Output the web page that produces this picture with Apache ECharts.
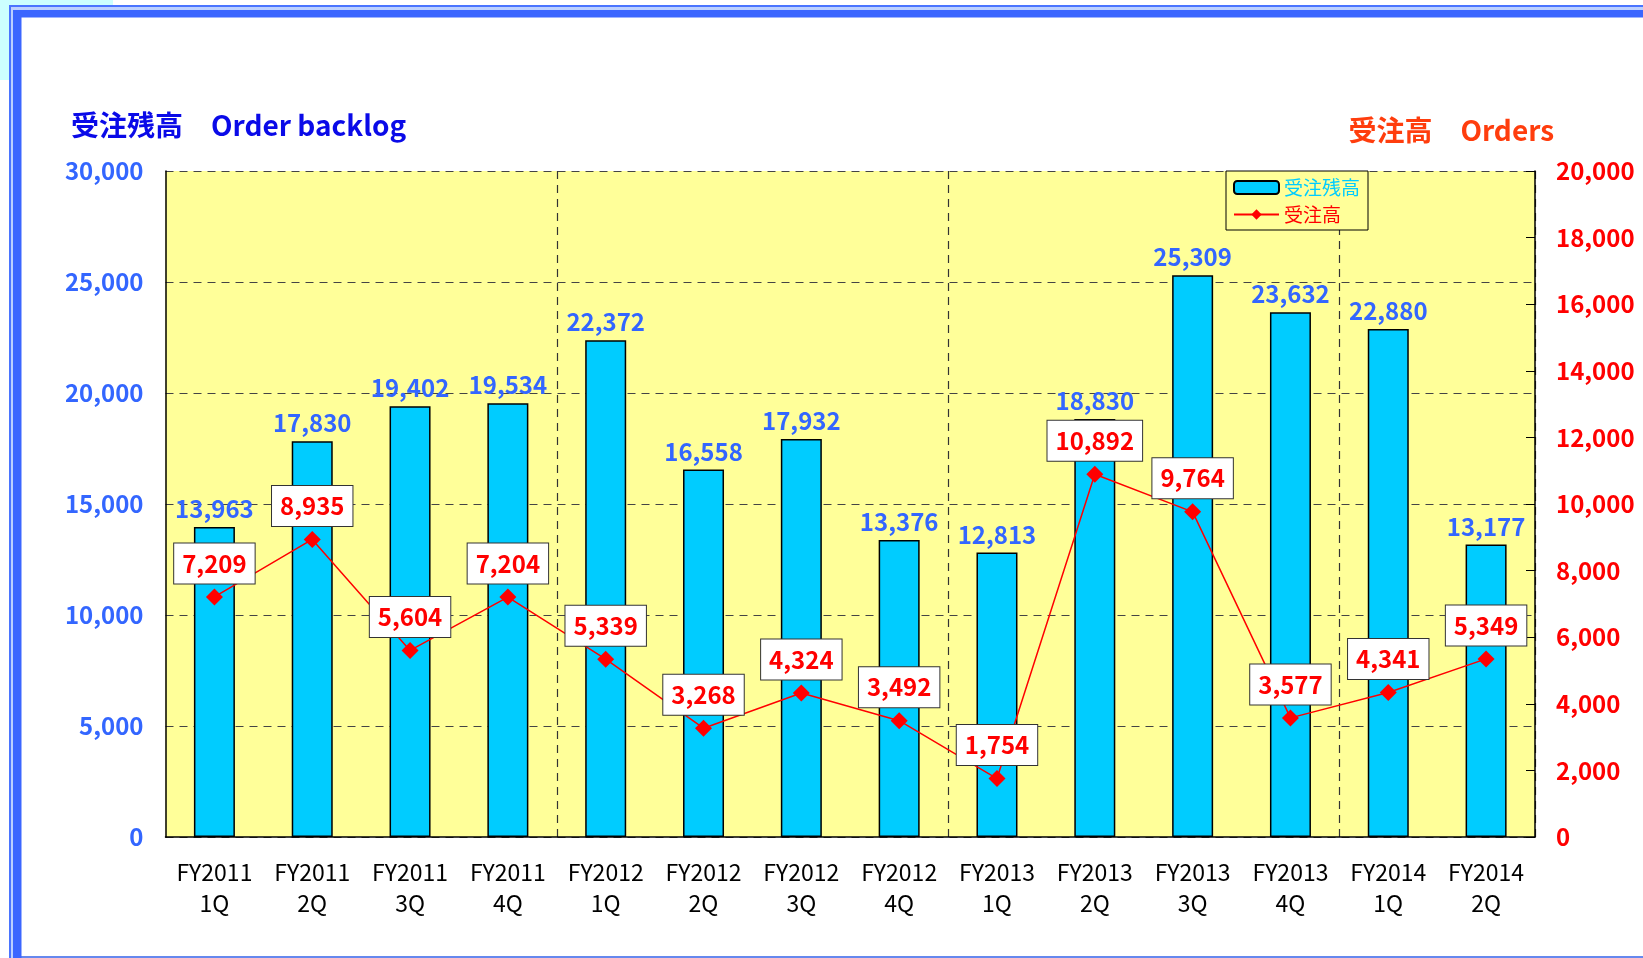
<!DOCTYPE html>
<html>
<head>
<meta charset="utf-8">
<script src="https://cdn.jsdelivr.net/npm/echarts@6/dist/echarts.min.js"></script>
<style>
  html, body { margin: 0; padding: 0; background: #fff; }
  #chart { width: 1643px; height: 958px; }
</style>
</head>
<body>
<div id="chart"></div>
<script>
const categories = [
  'FY2011\n1Q', 'FY2011\n2Q', 'FY2011\n3Q', 'FY2011\n4Q',
  'FY2012\n1Q', 'FY2012\n2Q', 'FY2012\n3Q', 'FY2012\n4Q',
  'FY2013\n1Q', 'FY2013\n2Q', 'FY2013\n3Q', 'FY2013\n4Q',
  'FY2014\n1Q', 'FY2014\n2Q'
]
// 受注残高 (order backlog)
const backlog = [13963, 17830, 19402, 19534, 22372, 16558, 17932, 13376, 12813, 18830, 25309, 23632, 22880, 13177]
// 受注高 (orders)
const orders = [7209, 8935, 5604, 7204, 5339, 3268, 4324, 3492, 1754, 10892, 9764, 3577, 4341, 5349]

const fmt = (v) => Number(v).toLocaleString('en-US')
const FONT = '"Noto Sans CJK JP", "Noto Sans", sans-serif'

const myChart = echarts.init(document.getElementById('chart'))

const option = {
  animation: false,
  textStyle: { fontFamily: FONT },
  // page frame
  graphic: {
    elements: [
      { type: 'rect', z: -10, shape: { x: 0, y: 0, width: 113, height: 80 }, style: { fill: '#ccffff' } },
      { type: 'rect', z: -9, shape: { x: 9, y: 5, width: 1700, height: 1000 }, style: { fill: '#4a74ff' } },
      { type: 'rect', z: -8, shape: { x: 11, y: 7, width: 1700, height: 1000 }, style: { fill: '#bcd0ff' } },
      { type: 'rect', z: -7, shape: { x: 13, y: 10, width: 1700, height: 1000 }, style: { fill: '#3b66ff' } },
      { type: 'rect', z: -6, shape: { x: 21.5, y: 17.5, width: 1700, height: 938.5 }, style: { fill: '#ffffff' } },
      { type: 'rect', z: -6, shape: { x: 21.5, y: 956, width: 1700, height: 2 }, style: { fill: '#6688ee' } }
    ]
  },
  title: [
    {
      text: '受注残高　Order backlog',
      left: 66,
      top: 106,
      textStyle: { color: '#0a0ae8', fontSize: 28, fontWeight: 'bold', fontFamily: FONT }
    },
    {
      text: '受注高　Orders',
      right: 84,
      top: 111,
      textStyle: { color: '#ff3d0d', fontSize: 28, fontWeight: 'bold', fontFamily: FONT }
    }
  ],
  legend: {
    orient: 'vertical',
    left: 1226,
    top: 171,
    padding: [7, 8, 6, 7],
    itemGap: 8,
    itemWidth: 45,
    itemHeight: 13,
    backgroundColor: '#ffff99',
    borderColor: '#000',
    borderWidth: 1,
    textStyle: { fontSize: 19, fontFamily: FONT },
    data: [
      { name: '受注残高', textStyle: { color: '#00ccff' } },
      { name: '受注高', textStyle: { color: '#ff0000' } }
    ]
  },
  grid: {
    left: 165.5,
    right: 108,
    top: 171,
    bottom: 121,
    containLabel: false,
    show: true,
    backgroundColor: '#ffff99',
    borderWidth: 0
  },
  xAxis: {
    type: 'category',
    data: categories,
    axisLine: { lineStyle: { color: '#000', width: 1.5 } },
    axisTick: { show: false },
    axisLabel: { color: '#000', fontSize: 23, lineHeight: 31, margin: 20, interval: 0 },
    splitLine: {
      show: true,
      interval: (idx) => idx > 0 && idx % 4 === 0,
      lineStyle: { color: '#333', type: [8, 6], width: 1.2 }
    }
  },
  yAxis: [
    {
      type: 'value',
      min: 0,
      max: 30000,
      interval: 5000,
      axisLine: { show: true, lineStyle: { color: '#000', width: 1.5 } },
      axisTick: { show: false },
      axisLabel: { color: '#3366ff', fontSize: 24, fontWeight: 'bold', margin: 22, formatter: fmt },
      splitLine: { show: true, lineStyle: { color: '#444', type: [8, 6], width: 1.2 } }
    },
    {
      type: 'value',
      min: 0,
      max: 20000,
      interval: 2000,
      position: 'right',
      axisLine: { show: true, lineStyle: { color: '#000', width: 1.5 } },
      axisTick: { show: true, inside: true, length: 9, lineStyle: { color: '#000' } },
      axisLabel: { color: '#ff0000', fontSize: 24, fontWeight: 'bold', margin: 21, formatter: fmt },
      splitLine: { show: false }
    }
  ],
  series: [
    {
      name: '受注残高',
      type: 'bar',
      yAxisIndex: 0,
      data: backlog,
      barWidth: 41,
      itemStyle: { color: '#00ccff', borderColor: '#000', borderWidth: 1.5 },
      label: {
        show: true,
        position: 'top',
        distance: 6,
        color: '#3366ff',
        fontSize: 24,
        fontWeight: 'bold',
        formatter: (p) => fmt(p.value)
      }
    },
    {
      name: '受注高',
      type: 'line',
      yAxisIndex: 1,
      data: orders,
      symbol: 'diamond',
      symbolSize: 17,
      lineStyle: { color: '#ff0000', width: 1.5 },
      itemStyle: { color: '#ff0000' },
      z: 5,
      label: {
        show: true,
        position: 'top',
        distance: 5,
        color: '#ff0000',
        fontSize: 24,
        fontWeight: 'bold',
        lineHeight: 28,
        backgroundColor: '#ffffff',
        borderColor: '#333',
        borderWidth: 1,
        padding: [6, 8, 6, 8],
        formatter: (p) => fmt(p.value)
      }
    }
  ]
}

myChart.setOption(option)
window.addEventListener('resize', () => {
  myChart.resize()
})
</script>
</body>
</html>
